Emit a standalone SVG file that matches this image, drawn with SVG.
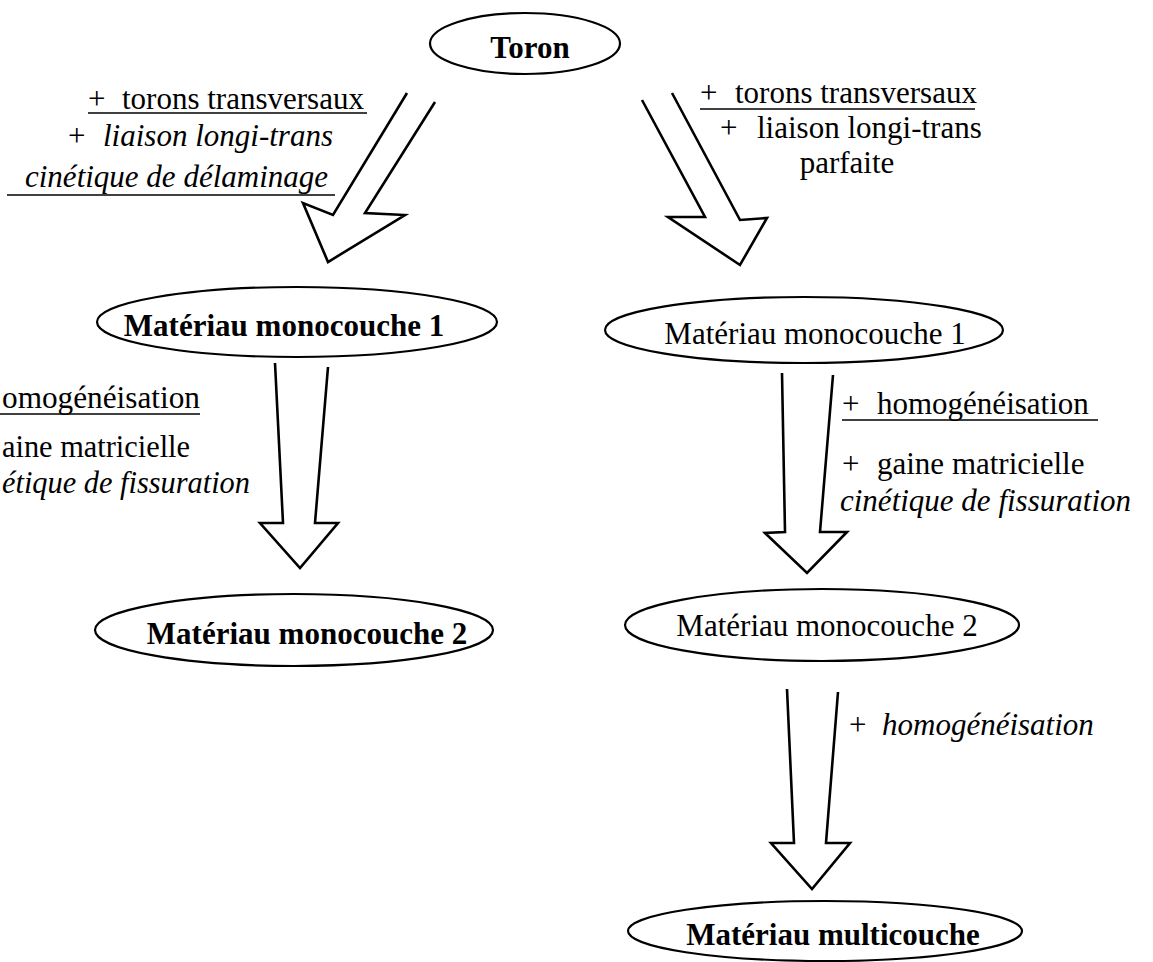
<svg xmlns="http://www.w3.org/2000/svg" width="1153" height="962" viewBox="0 0 1153 962">
<style>
.node{fill:#fff;stroke:#000;stroke-width:2.2}
.arrow{fill:#fff;stroke:#000;stroke-width:2.6;stroke-linejoin:miter}
.t{font-family:"Liberation Serif","Times New Roman",serif;fill:#000}
.nb{font-size:31px;font-weight:bold}
.nr{font-size:31px}
.lb{font-size:31px}
.it{font-style:italic}
.ul{stroke:#000;stroke-width:1.6}
</style>
<rect width="1153" height="962" fill="#fff"/>
<g id="connectors">
<path class="arrow" d="M407,93 L333,215 L303,203 L328,262 L405,215 L365,213 L435,102"/>
<path class="arrow" d="M642,100 L705,217 L668,217 L740,265 L767,218 L740,220 L672,93"/>
<path class="arrow" d="M275,363 L283,523 L260,523 L300,568 L338,523 L315,523 L328,367"/>
<path class="arrow" d="M782,373 L785,532 L765,533 L807,573 L847,532 L820,532 L833,375"/>
<path class="arrow" d="M787,689 L794,843 L771,843 L812,889 L850,843 L826,843 L838,692"/>
</g>
<g id="node-toron">
<ellipse class="node" cx="525" cy="43.5" rx="95" ry="30.5"/>
<text class="t nb" x="530" y="58" text-anchor="middle">Toron</text>
</g>
<g id="node-mono1-left">
<ellipse class="node" cx="297" cy="322" rx="200" ry="35"/>
<text class="t nb" x="284" y="336" text-anchor="middle">Matériau monocouche 1</text>
</g>
<g id="node-mono1-right">
<ellipse class="node" cx="804" cy="330" rx="199" ry="33"/>
<text class="t nr" x="815" y="344" text-anchor="middle">Matériau monocouche 1</text>
</g>
<g id="node-mono2-left">
<ellipse class="node" cx="294" cy="630" rx="199" ry="36"/>
<text class="t nb" x="307" y="644" text-anchor="middle">Matériau monocouche 2</text>
</g>
<g id="node-mono2-right">
<ellipse class="node" cx="822" cy="625" rx="197" ry="36"/>
<text class="t nr" x="827" y="636" text-anchor="middle">Matériau monocouche 2</text>
</g>
<g id="node-multicouche">
<ellipse class="node" cx="825" cy="931" rx="197" ry="30"/>
<text class="t nb" x="833" y="945" text-anchor="middle">Matériau multicouche</text>
</g>
<g id="labels">
<text class="t lb" x="88" y="109">+</text>
<text class="t lb" x="122" y="109">torons transversaux</text>
<line class="ul" x1="88" y1="113" x2="367" y2="113"/>
<text class="t lb" x="68" y="146">+</text>
<text class="t lb it" x="103" y="146">liaison longi-trans</text>
<text class="t lb it" x="25" y="187">cinétique de délaminage</text>
<line class="ul" x1="7" y1="195" x2="335" y2="195"/>

<text class="t lb" x="700" y="103">+</text>
<text class="t lb" x="735" y="103">torons transversaux</text>
<line class="ul" x1="700" y1="109" x2="975" y2="109"/>
<text class="t lb" x="720" y="138">+</text>
<text class="t lb" x="757" y="138">liaison longi-trans</text>
<text class="t lb" x="847" y="173" text-anchor="middle">parfaite</text>

<text class="t lb" x="2" y="408" textLength="198" lengthAdjust="spacingAndGlyphs">omogénéisation</text>
<line class="ul" x1="0" y1="414" x2="200" y2="414"/>
<text class="t lb" x="2" y="457" textLength="188" lengthAdjust="spacingAndGlyphs">aine matricielle</text>
<text class="t lb it" x="2" y="493" textLength="248" lengthAdjust="spacingAndGlyphs">étique de fissuration</text>

<text class="t lb" x="842" y="414">+</text>
<text class="t lb" x="877" y="414">homogénéisation</text>
<line class="ul" x1="842" y1="420" x2="1098" y2="420"/>
<text class="t lb" x="842" y="474">+</text>
<text class="t lb" x="877" y="474">gaine matricielle</text>
<text class="t lb it" x="840" y="511">cinétique de fissuration</text>

<text class="t lb" x="849" y="735">+</text>
<text class="t lb it" x="882" y="735">homogénéisation</text>
</g>
</svg>
